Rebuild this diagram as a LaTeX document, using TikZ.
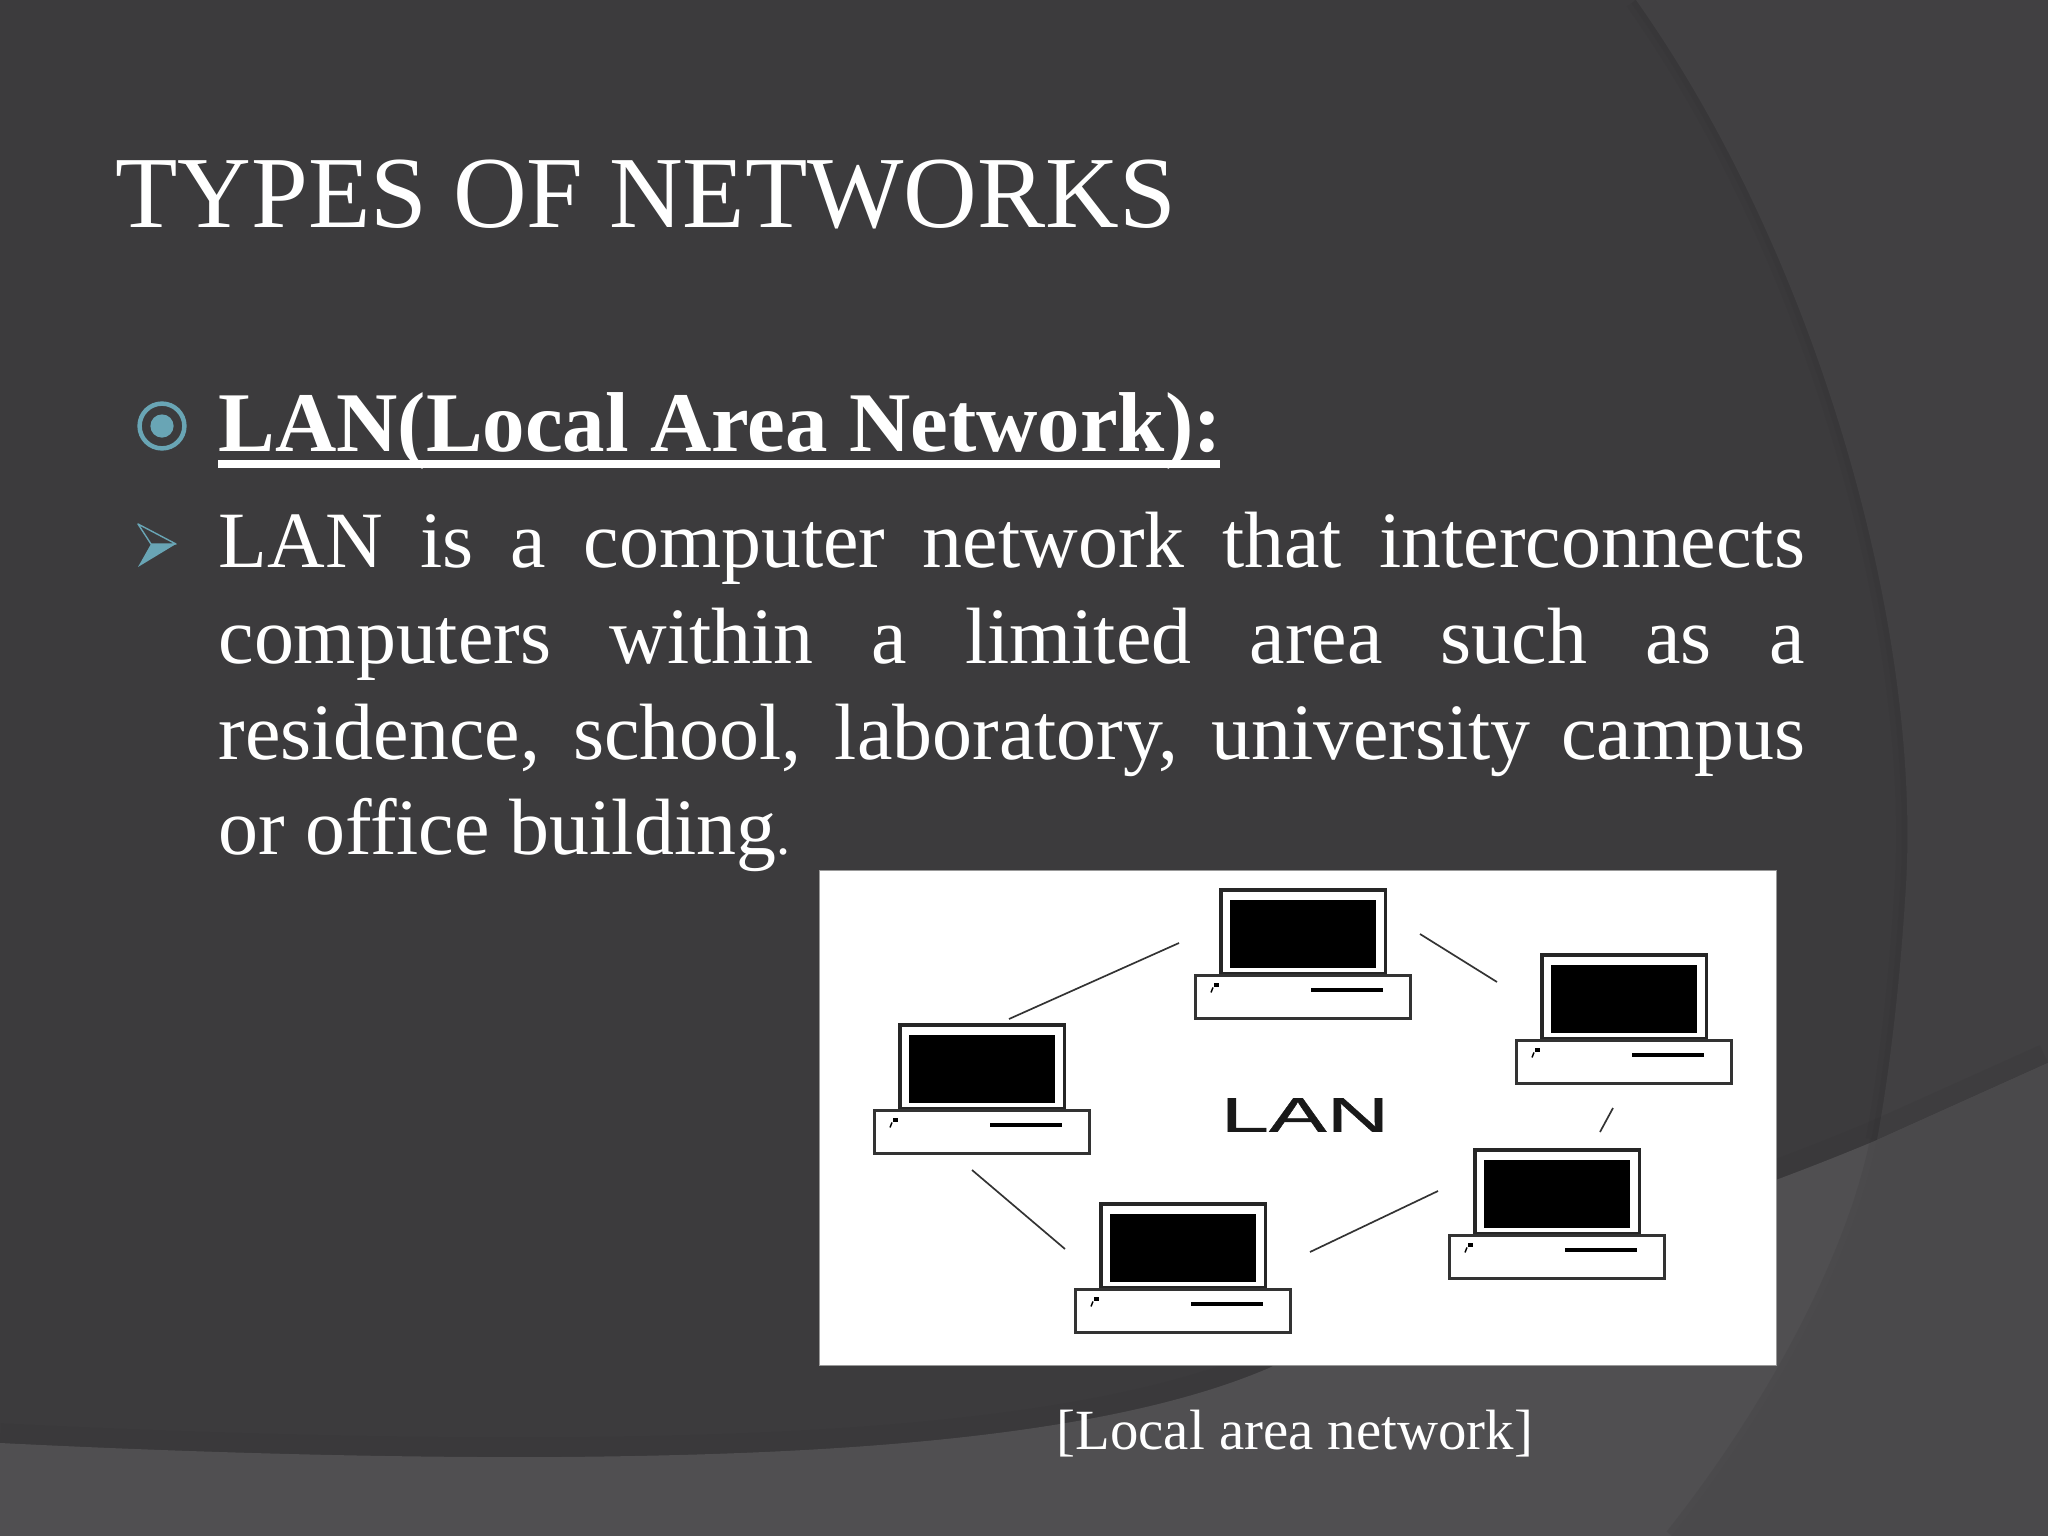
\documentclass[tikz,border=0pt]{standalone}
\usepackage{fontspec}
\setmainfont{Liberation Serif}
\newfontfamily\lanfont[FakeBold=0.6]{Liberation Sans}
\usetikzlibrary{positioning}
\definecolor{slidedark}{HTML}{3C3B3D}
\definecolor{slideband}{HTML}{414042}
\definecolor{slidelow}{HTML}{504F51}
\definecolor{slidecorner}{HTML}{4A494B}
\definecolor{slideedge}{HTML}{2E2D2F}
\definecolor{bulletblue}{HTML}{69A5B5}

% one computer: name, top left corner of the monitor
\newcommand{\computer}[2]{
  \node[monitor] (#1) at (#2) {};
  \node[screenbox] (#1s) at ([yshift=-0.7pt]#1.center) {};
  \node[basebox, below=0.4pt of #1] (#1b) {};
  \node[slotbar, anchor=north east] (#1t) at ([xshift=-0.34cm,yshift=-0.15cm]#1b.north east) {};
  \node[powerdot, anchor=north west] (#1d) at ([xshift=0.22cm,yshift=-0.09cm]#1b.north west) {};
  \draw[line width=0.5pt] (#1d.south west) -- ++(-2,5);
}

\begin{document}
\begin{tikzpicture}[x=0.0125cm, y=-0.0125cm]
  \tikzset{
    monitor/.style={rectangle, draw=black!85, line width=1.1pt, fill=white, minimum width=2.05cm, minimum height=1.05cm, inner sep=0pt, outer sep=0pt, anchor=north west},
    screenbox/.style={rectangle, fill=black, minimum width=1.83cm, minimum height=0.86cm, inner sep=0pt},
    basebox/.style={rectangle, draw=black!80, line width=1pt, fill=white, minimum width=2.69cm, minimum height=0.54cm, inner sep=0pt, outer sep=0pt},
    slotbar/.style={rectangle, fill=black, minimum width=0.9cm, minimum height=0.05cm, inner sep=0pt},
    powerdot/.style={rectangle, fill=black, minimum width=0.07cm, minimum height=0.05cm, inner sep=0pt},
    wire/.style={draw=black!80, line width=0.6pt},
    softedge/.style={slideedge, opacity=0.12},
    bodytext/.style={text=white, inner sep=0pt, font=\fontsize{28.4}{33.97}\selectfont},
  }
  \useasboundingbox (0,0) rectangle (2048,1536);

  %--- slide background ---
  \fill[slidedark] (0,0) rectangle (2048,1536);
  \draw[softedge, line width=8pt] (1636,0) .. controls (1820,260) and (1925,640) .. (1905,900) .. controls (1900,980) and (1890,1070) .. (1877,1140);
  \draw[softedge, line width=4pt] (1636,0) .. controls (1820,260) and (1925,640) .. (1905,900) .. controls (1900,980) and (1890,1070) .. (1877,1140);
  \fill[slideband] (1636,0) .. controls (1820,260) and (1925,640) .. (1905,900) .. controls (1900,980) and (1890,1070) .. (1877,1140) -- (2048,1063) -- (2048,0) -- cycle;
  \draw[softedge, line width=14pt] (0,1443) .. controls (180,1452) and (380,1458) .. (560,1457) .. controls (780,1455) and (1090,1445) .. (1269,1368) .. controls (1450,1280) and (1650,1235) .. (1877,1140) -- (2048,1063);
  \fill[slidelow] (0,1443) .. controls (180,1452) and (380,1458) .. (560,1457) .. controls (780,1455) and (1090,1445) .. (1269,1368) .. controls (1450,1280) and (1650,1235) .. (1877,1140) -- (2048,1063) -- (2048,1536) -- (0,1536) -- cycle;
  \draw[softedge, line width=5pt] (1877,1140) .. controls (1855,1250) and (1780,1400) .. (1672,1536);
  \fill[slidecorner] (1877,1140) .. controls (1855,1250) and (1780,1400) .. (1672,1536) -- (2048,1536) -- (2048,1063) -- cycle;

  %--- title and text ---
  \node[text=white, inner sep=0pt, anchor=base west, font=\fontsize{36.3}{40}\selectfont] (title) at (115,227) {TYPES OF NETWORKS};

  \node[circle, draw=bulletblue, line width=1.6pt, inner sep=0pt, minimum width=0.56cm] (ringbullet) at (162,426) {};
  \node[circle, fill=bulletblue, minimum width=0.29cm, inner sep=0pt] (ringdot) at (ringbullet.center) {};
  \node[text=white, inner sep=0pt, anchor=base west, font=\fontsize{30.2}{32}\selectfont\bfseries] (heading) at (218,451) {LAN(Local Area Network):};
  \fill[white] (heading.base west |- 0,460) rectangle (1220,468);

  \fill[bulletblue] (138,567) -- (176,544) -- (151,544) -- cycle;
  \draw[bulletblue, line width=0.5pt, line join=round] (138,524) -- (176,544) -- (151,544) -- cycle;

  \node[bodytext, anchor=north west, text width=19.825cm, align=justify] (lantext) at (218,512) {LAN is a computer network that interconnects\linebreak computers within a limited area such as a\linebreak residence, school, laboratory, university campus\linebreak or office building{\fontsize{20}{20}\selectfont.}};

  %--- picture of the network ---
  \node[rectangle, fill=white, draw=black!40, line width=0.3pt, minimum width=11.96cm, minimum height=6.19cm, inner sep=0pt, anchor=north west] (lanimage) at (819,870) {};

  \computer{ptop}{1221,890}
  \computer{pright}{1542,955}
  \computer{pleft}{900,1025}
  \computer{pbotright}{1475,1150}
  \computer{pbottom}{1101,1204}

  \node[font=\lanfont\fontsize{17.4}{18}\selectfont, xscale=1.77, text=black!90, inner sep=0pt] (lanlabel) at (1305,1115) {LAN};

  \coordinate (w1a) at (1009,1019);
  \coordinate (w1b) at (1179,943);
  \coordinate (w2a) at (1420,934);
  \coordinate (w2b) at (1497,982);
  \coordinate (w3a) at (1613,1108);
  \coordinate (w3b) at (1600,1132);
  \coordinate (w4a) at (1438,1191);
  \coordinate (w4b) at (1310,1252);
  \coordinate (w5a) at (1065,1249);
  \coordinate (w5b) at (972,1170);
  \draw[wire] (w1a) -- (w1b);
  \draw[wire] (w2a) -- (w2b);
  \draw[wire] (w3a) -- (w3b);
  \draw[wire] (w4a) -- (w4b);
  \draw[wire] (w5a) -- (w5b);

  \node[text=white, inner sep=0pt, anchor=base west, font=\fontsize{20.2}{22}\selectfont] (caption) at (1056,1449.5) {[Local area network]};
\end{tikzpicture}
\end{document}
